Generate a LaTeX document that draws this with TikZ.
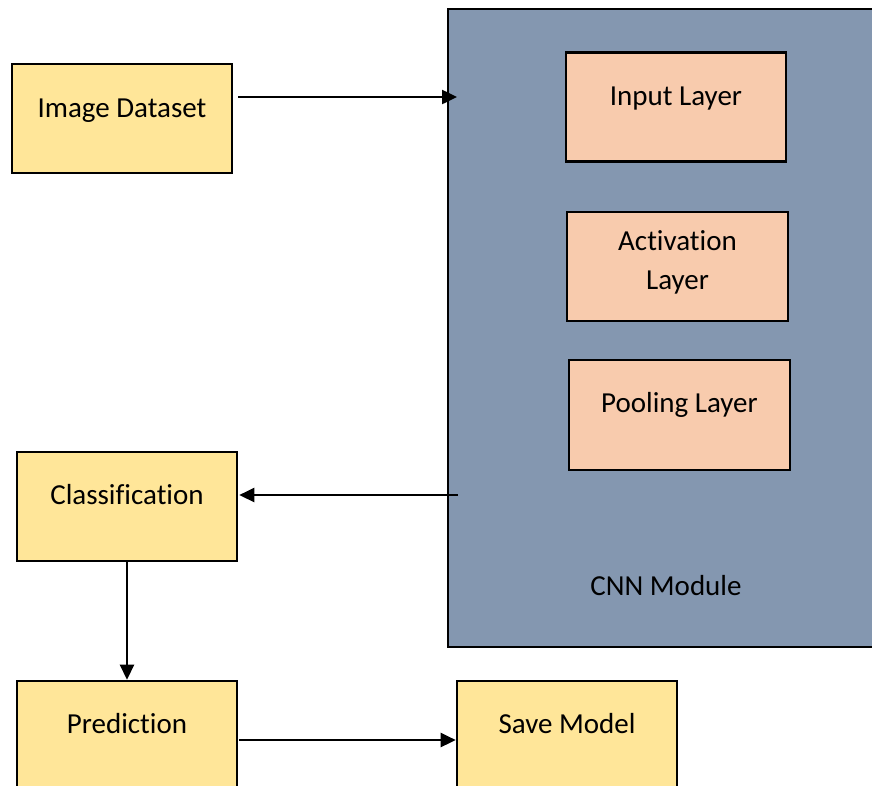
\documentclass[tikz,border=0pt]{standalone}
\usepackage{fontspec}
\setmainfont{Carlito}[Ligatures={NoCommon}]
\usetikzlibrary{arrows.meta}
\definecolor{stepfill}{HTML}{FFE699}
\definecolor{layerfill}{HTML}{F8CBAD}
\definecolor{cnnfill}{HTML}{8497B0}
\tikzset{
  box/.style={draw=black, line width=2.6pt, inner sep=0pt},
  stepbox/.style={box, fill=stepfill, minimum width=220pt, minimum height=109pt},
  layerbox/.style={box, fill=layerfill, minimum width=220pt, minimum height=109pt},
  lbl/.style={font=\fontsize{29}{39}\selectfont, inner sep=0pt, anchor=base},
  arr/.style={line width=2.5pt, -{Triangle[length=15pt,width=14pt]}},
}
\begin{document}
\begin{tikzpicture}[x=1pt, y=-1pt]
  \useasboundingbox (0,0) rectangle (872,785);
  \begin{scope}
    \clip (0,0) rectangle (872,785);
    % CNN container, running past the right edge
    \node[box, fill=cnnfill, minimum width=450pt, minimum height=638pt] (cnn) at (673,328) {};
    \node[lbl] (cnnlbl) at (666,595) {CNN Module};

    % layers inside the CNN
    \node[layerbox] (inl) at (676,107) {};
    \node[lbl] (inltxt) at (676,105) {Input Layer};
    \node[layerbox, minimum width=221pt] (act) at (677.5,266.5) {};
    \node[lbl] (acttxt) at (677.5,250) {Activation};
    \node[lbl] (acttxtb) at (677.5,289) {Layer};
    \node[layerbox, minimum width=221pt, minimum height=110pt] (pool) at (679.5,415) {};
    \node[lbl] (pooltxt) at (679.5,412) {Pooling Layer};

    % processing steps
    \node[stepbox] (img) at (122,118.5) {};
    \node[lbl] (imgtxt) at (122,117) {Image Dataset};
    \node[stepbox] (cls) at (127,506.5) {};
    \node[lbl] (clstxt) at (127,504) {Classification};
    \node[stepbox] (pred) at (127,735.5) {};
    \node[lbl] (predtxt) at (127,733) {Prediction};
    \node[stepbox] (save) at (567,735.5) {};
    \node[lbl] (savetxt) at (567,733) {Save Model};

    % connectors
    \coordinate (cnnin) at (457,97);
    \coordinate (cnnout) at (458,495);
    \coordinate (saveline) at (457,740);
    \draw[arr] ([xshift=5pt]img.east |- cnnin) -- (cnnin);
    \draw[arr] (cnnout) -- ([xshift=1pt]cls.east |- cnnout);
    \draw[arr] (cls.south) -- (pred.north);
    \draw[arr] ([xshift=1pt]pred.east |- saveline) -- (save.west |- saveline);
  \end{scope}
\end{tikzpicture}
\end{document}
